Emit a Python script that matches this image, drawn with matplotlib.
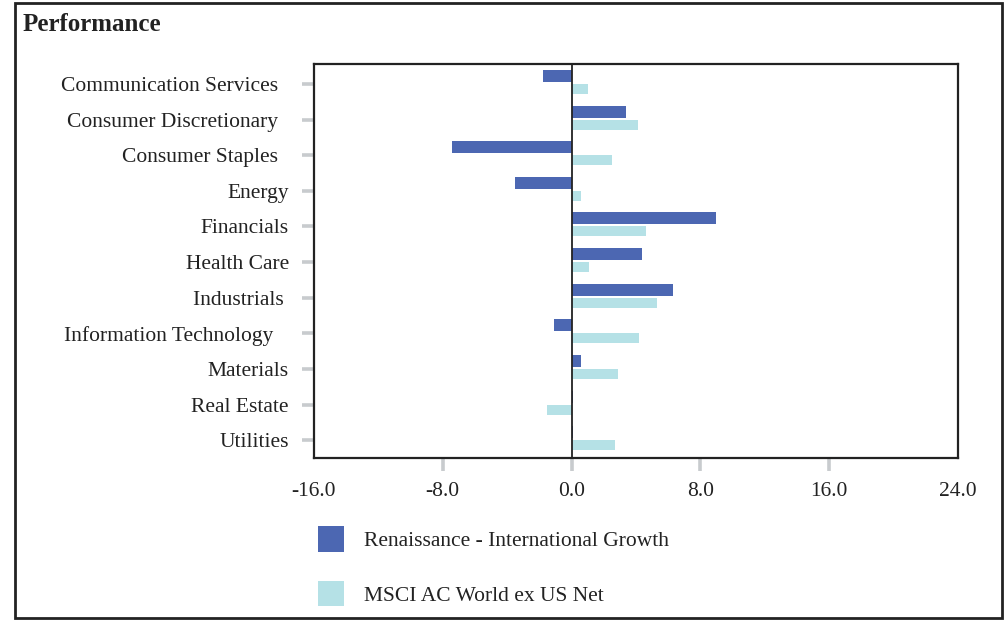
import matplotlib
matplotlib.use("Agg")
import matplotlib.pyplot as plt
from matplotlib.patches import Rectangle, Patch
import numpy as np

categories = ["Communication Services  ", "Consumer Discretionary  ", "Consumer Staples  ",
              "Energy", "Financials", "Health Care", "Industrials ",
              "Information Technology   ", "Materials", "Real Estate", "Utilities"]
fund = [-1.8, 3.4, -7.4, -3.5, 9.0, 4.4, 6.3, -1.1, 0.6, 0.1, 0.1]
bench = [1.0, 4.1, 2.5, 0.6, 4.6, 1.1, 5.3, 4.2, 2.9, -1.5, 2.7]
xticks = [-16.0, -8.0, 0.0, 8.0, 16.0, 24.0]
series_names = ["Renaissance - International Growth", "MSCI AC World ex US Net"]

dark = "#4C67B2"
light = "#B5E1E6"
grey = "#C8CBCE"
txt = "#222222"
font = ["Liberation Serif", "DejaVu Serif"]
plt.rcParams["font.family"] = font
FS = 15.5

fig = plt.figure(figsize=(10.05, 6.21), dpi=100)
ax = fig.add_axes([0.3124, 0.2625, 0.6408, 0.6344])

y = np.arange(len(categories))
ax.barh(y - 0.225, fund, height=0.335, color=dark, zorder=2)
ax.barh(y + 0.14, bench, height=0.28, color=light, zorder=2)
ax.axvline(0, color=txt, lw=1.3, zorder=3)

ax.set_xlim(-16, 24)
ax.set_ylim(10.5, -0.56)
ax.set_yticks(y)
ax.set_yticklabels(categories, fontsize=FS, color=txt)
ax.set_xticks(xticks)
ax.set_xticklabels([f"{v:.1f}" for v in xticks], fontsize=FS, color=txt)
ax.tick_params(axis="y", length=9, width=2.6, color=grey, pad=9.0)
ax.tick_params(axis="x", length=9, width=2.6, color=grey, pad=8)
ticks = ax.xaxis.get_major_ticks()
ticks[0].tick1line.set_visible(False)
ticks[-1].tick1line.set_visible(False)
for s in ax.spines.values():
    s.set_color(txt)
    s.set_linewidth(1.6)

fig.text(0.022, 1 - 31 / 621, "Performance", fontsize=18, fontweight="bold", color=txt,
         va="baseline", ha="left")

fig.patches.append(Rectangle((0.015, 0.005), 0.982, 0.99, transform=fig.transFigure,
                             fill=False, edgecolor=txt, lw=2))

handles = [Patch(facecolor=dark), Patch(facecolor=light)]
fig.legend(handles, series_names, loc="upper left",
           bbox_to_anchor=(318 / 1005, 1 - 526 / 621),
           bbox_transform=fig.transFigure, frameon=False, fontsize=FS,
           handlelength=1.21, handleheight=1.45, handletextpad=0.93,
           labelspacing=1.35, borderaxespad=0, borderpad=0, labelcolor=txt)

fig.savefig("out.png", dpi=100)
